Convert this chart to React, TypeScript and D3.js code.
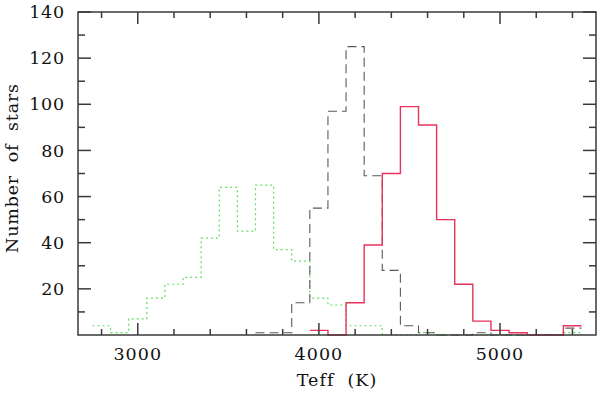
import { useEffect, useRef } from 'react';
import * as d3 from 'd3';

// Histogram bins are 100 K wide; each series lists counts from its first bin edge.
const BIN_WIDTH = 100;

const GREEN_START = 2750;
const GREEN_COUNTS = [4, 1, 7, 16, 22, 25, 42, 64, 45, 65, 37, 32, 16, 13, 4, 4, 0, 0, 1, 0, 0, 0, 0, 0, 0, 0, 1];

const BLACK_START = 3650;
const BLACK_COUNTS = [1, 1, 14, 55, 97, 125, 69, 28, 4, 1, 0, 0, 1, 0, 0, 0, 0, 3];

const RED_START = 3950;
const RED_COUNTS = [2, 0, 14, 39, 70, 99, 91, 50, 22, 6, 2, 1, 0, 0, 4];

const X_MAJOR = [3000, 4000, 5000];
const X_MINOR = [2800, 3200, 3400, 3600, 3800, 4200, 4400, 4600, 4800, 5200, 5400];
const Y_MAJOR = [20, 40, 60, 80, 100, 120, 140];
const Y_MINOR = [10, 30, 50, 70, 90, 110, 130];

const WIDTH = 600;
const HEIGHT = 395;
const PLOT = { left: 78, right: 596, top: 12, bottom: 335 };

const FONT = '"DejaVu Serif", serif';
const AXIS_COLOR = '#3a3a3a';

export default function App() {
  const svgRef = useRef<SVGSVGElement>(null);

  useEffect(() => {
    const svg = d3.select(svgRef.current);
    svg.selectAll('*').remove();

    const x = d3.scaleLinear().domain([2670, 5530]).range([PLOT.left, PLOT.right]);
    const y = d3.scaleLinear().domain([0, 140]).range([PLOT.bottom, PLOT.top]);

    // Step outline through the bins, like a plain histogram plot
    const stepPath = (start: number, counts: number[]) => {
      const pts: [number, number][] = counts.map((c, i) => [start + i * BIN_WIDTH, c]);
      pts.push([start + counts.length * BIN_WIDTH, counts[counts.length - 1]]);
      return d3
        .line<[number, number]>()
        .x((d) => x(d[0]))
        .y((d) => y(d[1]))
        .curve(d3.curveStepAfter)(pts);
    };

    const series = [
      { start: GREEN_START, counts: GREEN_COUNTS, color: '#5fe05f', dash: '2,3', width: 1.2 },
      { start: BLACK_START, counts: BLACK_COUNTS, color: '#5a5a5a', dash: '9,5', width: 1.1 },
      { start: RED_START, counts: RED_COUNTS, color: '#e8335a', dash: null, width: 1.4 },
    ];

    for (const s of series) {
      svg
        .append('path')
        .attr('d', stepPath(s.start, s.counts))
        .attr('fill', 'none')
        .attr('stroke', s.color)
        .attr('stroke-width', s.width)
        .attr('stroke-dasharray', s.dash);
    }

    // Frame ----------------------------------------------------------------
    const g = svg.append('g').attr('stroke', AXIS_COLOR).attr('stroke-width', 1.5);
    g.append('rect')
      .attr('x', PLOT.left)
      .attr('y', PLOT.top)
      .attr('width', PLOT.right - PLOT.left)
      .attr('height', PLOT.bottom - PLOT.top)
      .attr('fill', 'none');

    // Inward ticks on all four sides
    const xTicks = [
      ...X_MAJOR.map((v) => ({ v, len: 12 })),
      ...X_MINOR.map((v) => ({ v, len: 6 })),
    ];
    for (const t of xTicks) {
      g.append('line')
        .attr('x1', x(t.v)).attr('x2', x(t.v))
        .attr('y1', PLOT.bottom).attr('y2', PLOT.bottom - t.len);
      g.append('line')
        .attr('x1', x(t.v)).attr('x2', x(t.v))
        .attr('y1', PLOT.top).attr('y2', PLOT.top + t.len);
    }
    const yTicks = [
      ...Y_MAJOR.map((v) => ({ v, len: 13 })),
      ...Y_MINOR.map((v) => ({ v, len: 7 })),
    ];
    for (const t of yTicks) {
      g.append('line')
        .attr('y1', y(t.v)).attr('y2', y(t.v))
        .attr('x1', PLOT.left).attr('x2', PLOT.left + t.len);
      g.append('line')
        .attr('y1', y(t.v)).attr('y2', y(t.v))
        .attr('x1', PLOT.right).attr('x2', PLOT.right - t.len);
    }

    // Labels ---------------------------------------------------------------
    const text = svg.append('g').attr('font-family', FONT).attr('font-size', 17.5).attr('fill', '#111');

    text.selectAll('text.xl')
      .data(X_MAJOR)
      .join('text')
      .attr('x', (d) => x(d))
      .attr('y', 360)
      .attr('text-anchor', 'middle')
      .attr('letter-spacing', 1)
      .text((d) => d);

    text.selectAll('text.yl')
      .data(Y_MAJOR)
      .join('text')
      .attr('x', 65)
      .attr('y', (d) => y(d))
      .attr('dy', '0.35em')
      .attr('text-anchor', 'end')
      .attr('letter-spacing', 0.8)
      .text((d) => d);

    text.append('text')
      .attr('x', (PLOT.left + PLOT.right) / 2)
      .attr('y', 386)
      .attr('text-anchor', 'middle')
      .attr('letter-spacing', 1)
      .attr('xml:space', 'preserve')
      .text('Teff  (K)');

    text.append('text')
      .attr('transform', `translate(18,168) rotate(-90)`)
      .attr('text-anchor', 'middle')
      .attr('letter-spacing', 0.8)
      .attr('xml:space', 'preserve')
      .text('Number  of  stars');
  }, []);

  return (
    <svg
      ref={svgRef}
      width={WIDTH}
      height={HEIGHT}
      style={{ position: 'absolute', left: 0, top: 0, background: '#fff' }}
    />
  );
}
